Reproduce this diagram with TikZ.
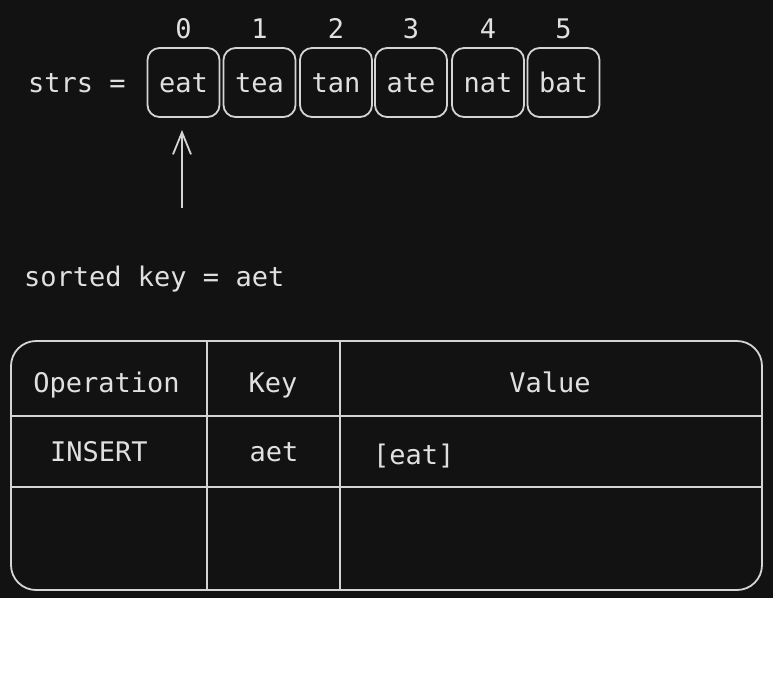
\documentclass[tikz,border=0pt]{standalone}
\usepackage{fontspec}
\setmonofont{DejaVu Sans Mono}
\usetikzlibrary{arrows.meta}
\definecolor{bgdark}{HTML}{121212}
\definecolor{fg}{HTML}{E0E0E0}
\definecolor{ln}{HTML}{D4D4D4}
\tikzset{
  txt/.style={text=fg, font=\ttfamily\fontsize{27}{32}\selectfont, inner sep=0pt},
  cell/.style={draw=ln, line width=1.8pt, rounded corners=12pt, minimum width=72pt, minimum height=69pt, inner sep=0pt},
  tablebox/.style={draw=ln, line width=1.8pt, rounded corners=25pt, minimum width=751pt, minimum height=249pt, inner sep=0pt},
  rule/.style={draw=ln, line width=1.8pt},
}
\begin{document}
\begin{tikzpicture}[x=1pt, y=-1pt]
\useasboundingbox (0,0) rectangle (776,694);
\fill[white] (0,0) rectangle (776,694);
\fill[bgdark] (0,0) rectangle (773,598);

\node[txt, anchor=base west] (strs) at (28,92) {strs =};

\foreach \i/\x/\w in {0/183.5/eat, 1/259.5/tea, 2/336/tan, 3/411/ate, 4/488/nat, 5/563.5/bat} {
  \node[cell] (b\i) at (\x,82.5) {};
  \node[txt, anchor=base] (w\i) at (\x,92) {\w};
  \node[txt, anchor=base] (n\i) at (\x,38) {\i};
}

\coordinate (arrtail) at (182,208);
\coordinate (arrtip) at (182,130);
\draw[rule, -{Straight Barb[length=22pt, width=18pt]}] (arrtail) -- (arrtip);

\node[txt, anchor=base west] (sk) at (24,286) {sorted key = aet};

\node[tablebox] (tbl) at (386.5,465.5) {};
\draw[rule] (tbl.north -| 207,0) -- (tbl.south -| 207,0);
\draw[rule] (tbl.north -| 340,0) -- (tbl.south -| 340,0);
\draw[rule] (tbl.west |- 0,416) -- (tbl.east |- 0,416);
\draw[rule] (tbl.west |- 0,487) -- (tbl.east |- 0,487);

\node[txt, anchor=base] (hop) at (106.5,392) {Operation};
\node[txt, anchor=base] (hkey) at (273,392) {Key};
\node[txt, anchor=base] (hval) at (550,392) {Value};
\node[txt, anchor=base west] (rop) at (50,461) {INSERT};
\node[txt, anchor=base] (rkey) at (274,461) {aet};
\node[txt, anchor=base west] (rval) at (373,464) {[eat]};
\end{tikzpicture}
\end{document}
